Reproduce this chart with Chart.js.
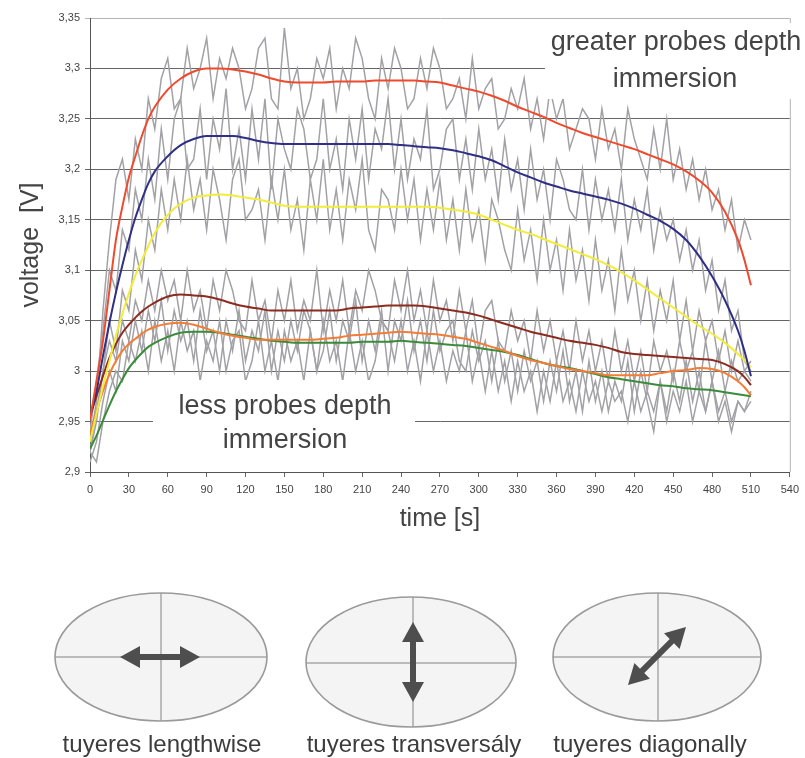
<!DOCTYPE html>
<html>
<head>
<meta charset="utf-8">
<script src="https://cdn.jsdelivr.net/npm/chart.js@4/dist/chart.umd.min.js"></script>
<style>
  html, body { margin: 0; padding: 0; background: #ffffff; }
  canvas { display: block; }
</style>
</head>
<body>
<canvas id="chart" width="805" height="758"></canvas>
<script>
// ------------------------------------------------
// Data
// ------------------------------------------------

// time axis of the smoothed curves [s]
var timeSmooth = [0, 5, 10, 15, 20, 25, 30, 35, 40, 45, 50,
    60, 70, 80, 90, 100, 110, 120, 130, 140, 150, 160, 170, 180, 190, 200,
    210, 220, 230, 240, 250, 260, 270, 280, 290, 300, 310, 320, 330, 340, 350,
    360, 370, 380, 390, 400, 410, 420, 430, 440, 450, 460, 470, 480, 490, 500,
    505, 510];

var redCurve = [2.952, 2.99, 3.03, 3.08, 3.13, 3.163, 3.192, 3.213, 3.233, 3.25, 3.262,
    3.279, 3.29, 3.297, 3.3, 3.3, 3.299, 3.297, 3.294, 3.29, 3.287, 3.286, 3.286, 3.286, 3.287, 3.287,
    3.287, 3.288, 3.288, 3.288, 3.288, 3.287, 3.286, 3.283, 3.28, 3.277, 3.273, 3.268, 3.262, 3.257, 3.252,
    3.246, 3.241, 3.236, 3.232, 3.228, 3.224, 3.22, 3.215, 3.21, 3.205, 3.198, 3.189, 3.177, 3.158, 3.13,
    3.11, 3.085];

var blueCurve = [2.955, 2.98, 3.015, 3.048, 3.078, 3.105, 3.13, 3.152, 3.17, 3.186, 3.198,
    3.213, 3.224, 3.23, 3.233, 3.233, 3.233, 3.231, 3.228, 3.226, 3.225, 3.225, 3.225, 3.225, 3.225, 3.225,
    3.225, 3.225, 3.225, 3.224, 3.223, 3.222, 3.221, 3.219, 3.216, 3.213, 3.209, 3.203, 3.197, 3.192, 3.187,
    3.183, 3.179, 3.176, 3.173, 3.17, 3.166, 3.161, 3.155, 3.149, 3.141, 3.13, 3.114, 3.094, 3.07, 3.04,
    3.02, 2.995];

var yellowCurve = [2.93, 2.958, 2.985, 3.01, 3.035, 3.057, 3.077, 3.095, 3.11, 3.124, 3.137,
    3.155, 3.166, 3.172, 3.174, 3.175, 3.174, 3.172, 3.17, 3.167, 3.164, 3.163, 3.163, 3.163, 3.163, 3.163,
    3.163, 3.163, 3.163, 3.163, 3.163, 3.163, 3.162, 3.16, 3.158, 3.155, 3.15, 3.145, 3.14, 3.136, 3.131,
    3.126, 3.121, 3.116, 3.111, 3.105, 3.098, 3.09, 3.081, 3.072, 3.063, 3.054, 3.045, 3.037, 3.028, 3.017,
    3.011, 3.004];

var brownCurve = [2.955, 2.975, 2.995, 3.013, 3.027, 3.038, 3.046, 3.053, 3.059, 3.064, 3.068,
    3.074, 3.076, 3.075, 3.074, 3.071, 3.067, 3.064, 3.062, 3.06, 3.06, 3.06, 3.06, 3.06, 3.06, 3.062,
    3.063, 3.064, 3.065, 3.065, 3.065, 3.064, 3.062, 3.06, 3.058, 3.055, 3.051, 3.047, 3.043, 3.039, 3.036,
    3.033, 3.03, 3.028, 3.026, 3.023, 3.019, 3.017, 3.016, 3.015, 3.014, 3.013, 3.012, 3.011, 3.007, 3.0,
    2.994, 2.986];

var orangeCurve = [2.938, 2.96, 2.98, 2.997, 3.01, 3.02, 3.027, 3.032, 3.037, 3.041, 3.044,
    3.047, 3.048, 3.046, 3.042, 3.038, 3.035, 3.033, 3.031, 3.031, 3.031, 3.031, 3.031, 3.032, 3.033, 3.035,
    3.036, 3.037, 3.038, 3.039, 3.038, 3.037, 3.036, 3.034, 3.032, 3.028, 3.024, 3.02, 3.015, 3.011, 3.008,
    3.005, 3.002, 3.0, 2.998, 2.996, 2.996, 2.996, 2.996, 2.998, 3.0, 3.001, 3.003, 3.002, 2.998, 2.99,
    2.984, 2.976];

var greenCurve = [2.923, 2.936, 2.951, 2.966, 2.98, 2.992, 3.003, 3.011, 3.018, 3.024, 3.028,
    3.034, 3.038, 3.039, 3.039, 3.038, 3.036, 3.034, 3.032, 3.03, 3.029, 3.028, 3.028, 3.028, 3.028, 3.028,
    3.029, 3.029, 3.029, 3.03, 3.029, 3.028, 3.027, 3.026, 3.025, 3.023, 3.021, 3.019, 3.016, 3.012, 3.008,
    3.005, 3.003, 3.0, 2.997, 2.994, 2.992, 2.99, 2.988, 2.986, 2.985, 2.983, 2.982, 2.981, 2.979, 2.977,
    2.976, 2.975];

// time axis of the raw (grey) measurements [s]
var timeRaw = [0, 5, 10, 15, 20, 25, 30, 35, 40, 45,
    50, 55, 60, 65, 70, 75, 80, 85, 90, 95,
    100, 105, 110, 115, 120, 125, 130, 135, 140, 145,
    150, 155, 160, 165, 170, 175, 180, 185, 190, 195,
    200, 205, 210, 215, 220, 225, 230, 235, 240, 245,
    250, 255, 260, 265, 270, 275, 280, 285, 290, 295,
    300, 305, 310, 315, 320, 325, 330, 335, 340, 345,
    350, 355, 360, 365, 370, 375, 380, 385, 390, 395,
    400, 405, 410, 415, 420, 425, 430, 435, 440, 445,
    450, 455, 460, 465, 470, 475, 480, 485, 490, 495,
    500, 505, 510];

var rawA = [2.93, 2.97, 3.06, 3.13, 3.19, 3.21, 3.17, 3.23, 3.20, 3.27,
    3.24, 3.29, 3.31, 3.26, 3.27, 3.32, 3.28, 3.30, 3.33, 3.27,
    3.31, 3.29, 3.32, 3.30, 3.26, 3.28, 3.32, 3.33, 3.27, 3.26,
    3.34, 3.28, 3.30, 3.25, 3.27, 3.31, 3.29, 3.32, 3.26, 3.30,
    3.28, 3.33, 3.31, 3.27, 3.25, 3.31, 3.28, 3.32, 3.30, 3.26,
    3.27, 3.31, 3.28, 3.32, 3.30, 3.26, 3.27, 3.29, 3.25, 3.31,
    3.26, 3.28, 3.29, 3.24, 3.25, 3.28, 3.26, 3.29, 3.24, 3.27,
    3.23, 3.28, 3.25, 3.27, 3.22, 3.24, 3.26, 3.25, 3.21, 3.26,
    3.22, 3.24, 3.20, 3.26, 3.23, 3.21, 3.19, 3.24, 3.20, 3.25,
    3.19, 3.22, 3.18, 3.21, 3.17, 3.20, 3.16, 3.18, 3.14, 3.17,
    3.12, 3.15, 3.13];

var rawB = [2.94, 2.99, 3.04, 3.10, 3.08, 3.14, 3.12, 3.18, 3.15, 3.21,
    3.17, 3.24, 3.19, 3.25, 3.27, 3.20, 3.21, 3.26, 3.19, 3.25,
    3.22, 3.28, 3.20, 3.24, 3.19, 3.26, 3.21, 3.27, 3.18, 3.25,
    3.22, 3.20, 3.26, 3.24, 3.19, 3.21, 3.27, 3.20, 3.23, 3.18,
    3.25, 3.21, 3.26, 3.19, 3.24, 3.22, 3.27, 3.20, 3.25, 3.19,
    3.23, 3.21, 3.26, 3.18, 3.20, 3.24, 3.25, 3.19, 3.23, 3.18,
    3.24, 3.19, 3.22, 3.17, 3.23, 3.18, 3.21, 3.16, 3.22, 3.17,
    3.20, 3.15, 3.21, 3.19, 3.16, 3.15, 3.20, 3.14, 3.19, 3.15,
    3.18, 3.14, 3.19, 3.13, 3.17, 3.14, 3.18, 3.12, 3.16, 3.13,
    3.15, 3.11, 3.14, 3.10, 3.13, 3.08, 3.11, 3.06, 3.09, 3.04,
    3.06, 3.01, 3.00];

var rawC = [2.92, 2.95, 3.00, 3.05, 3.02, 3.08, 3.06, 3.12, 3.09, 3.15,
    3.12, 3.18, 3.14, 3.19, 3.15, 3.21, 3.16, 3.19, 3.14, 3.20,
    3.17, 3.13, 3.19, 3.21, 3.15, 3.16, 3.18, 3.13, 3.19, 3.15,
    3.20, 3.14, 3.17, 3.12, 3.19, 3.15, 3.21, 3.14, 3.18, 3.13,
    3.19, 3.16, 3.21, 3.14, 3.12, 3.18, 3.17, 3.14, 3.20, 3.15,
    3.19, 3.13, 3.18, 3.14, 3.19, 3.13, 3.17, 3.12, 3.18, 3.13,
    3.16, 3.11, 3.17, 3.15, 3.12, 3.10, 3.16, 3.11, 3.14, 3.09,
    3.15, 3.10, 3.13, 3.08, 3.14, 3.09, 3.12, 3.07, 3.13, 3.08,
    3.11, 3.06, 3.12, 3.07, 3.10, 3.05, 3.09, 3.04, 3.08, 3.05,
    3.09, 3.03, 3.07, 3.02, 3.06, 3.03, 3.05, 3.01, 3.04, 3.00,
    3.03, 3.00, 3.01];

var rawD = [2.92, 2.96, 3.00, 3.03, 3.01, 3.05, 3.03, 3.07, 3.05, 3.09,
    3.06, 3.10, 3.07, 3.09, 3.05, 3.10, 3.06, 3.08, 3.04, 3.09,
    3.06, 3.10, 3.08, 3.05, 3.04, 3.09, 3.05, 3.07, 3.03, 3.08,
    3.05, 3.09, 3.04, 3.07, 3.05, 3.10, 3.04, 3.08, 3.05, 3.09,
    3.04, 3.08, 3.06, 3.10, 3.08, 3.05, 3.04, 3.09, 3.06, 3.10,
    3.05, 3.08, 3.04, 3.09, 3.05, 3.07, 3.03, 3.08, 3.04, 3.07,
    3.02, 3.06, 3.07, 3.03, 3.02, 3.06, 3.03, 3.05, 3.01, 3.06,
    3.02, 3.05, 3.01, 3.04, 3.00, 3.05, 3.01, 3.04, 3.00, 3.03,
    2.99, 3.04, 3.00, 3.03, 2.99, 3.02, 2.98, 3.03, 3.00, 3.02,
    2.99, 3.03, 3.00, 3.02, 2.98, 3.03, 2.99, 3.02, 2.98, 3.01,
    2.99, 3.00, 2.99];

var rawE = [2.91, 2.93, 2.97, 3.00, 2.98, 3.03, 3.01, 3.05, 3.02, 3.06,
    3.03, 3.07, 3.02, 3.06, 3.03, 3.05, 3.01, 3.06, 3.02, 3.04,
    3.00, 3.05, 3.02, 3.06, 3.01, 3.04, 3.02, 3.06, 3.00, 3.04,
    3.01, 3.05, 3.02, 3.06, 3.04, 3.00, 3.02, 3.06, 3.01, 3.05,
    3.03, 3.07, 3.01, 3.05, 3.02, 3.06, 3.00, 3.05, 3.03, 3.07,
    3.02, 3.05, 3.01, 3.06, 3.02, 3.04, 3.05, 3.01, 3.00, 3.04,
    3.01, 3.03, 2.99, 3.03, 2.99, 3.02, 2.98, 3.02, 2.99, 3.01,
    2.97, 3.01, 2.98, 3.02, 2.97, 3.00, 2.96, 3.01, 2.97, 3.00,
    2.96, 2.99, 2.97, 3.01, 2.96, 3.00, 2.97, 2.94, 2.99, 2.96,
    3.00, 2.97, 3.01, 2.97, 3.00, 2.96, 2.99, 2.95, 2.97, 2.94,
    2.97, 2.96, 2.98];

var rawF = [2.92, 2.91, 2.95, 2.98, 3.00, 2.99, 3.03, 3.01, 3.04, 3.00,
    3.05, 3.01, 3.04, 3.00, 3.05, 3.02, 3.04, 2.99, 3.03, 3.01,
    3.05, 3.00, 3.03, 3.04, 2.99, 3.01, 3.05, 3.00, 3.03, 2.99,
    3.04, 3.01, 3.03, 2.99, 3.04, 3.00, 3.05, 3.01, 3.03, 2.99,
    3.04, 3.00, 3.03, 2.99, 3.01, 3.05, 3.04, 3.01, 3.05, 3.00,
    3.03, 2.99, 3.04, 3.00, 3.03, 2.99, 3.02, 3.00, 3.04, 2.99,
    3.02, 2.98, 3.02, 2.98, 3.01, 2.97, 3.01, 2.98, 3.00, 2.96,
    3.00, 2.97, 3.01, 2.97, 2.99, 2.96, 3.00, 2.97, 2.99, 2.96,
    2.99, 2.97, 2.98, 2.95, 2.99, 2.96, 2.98, 2.96, 2.99, 2.95,
    2.98, 2.96, 2.99, 2.95, 2.98, 2.96, 2.99, 2.96, 2.98, 2.95,
    2.97, 2.96, 2.97];

// tick labels / texts
var xTicks = [0, 30, 60, 90, 120, 150, 180, 210, 240, 270, 300, 330, 360, 390, 420, 450, 480, 510, 540];
var yTickLabels = ["2,9", "2,95", "3", "3,05", "3,1", "3,15", "3,2", "3,25", "3,3", "3,35"];
var xTitle = "time [s]";
var yTitle = "voltage  [V]";
var noteHigh = ["greater probes depth", "immersion"];
var noteLow = ["less probes depth", "immersion"];
var tuyereLabels = ["tuyeres lengthwise", "tuyeres transversály", "tuyeres diagonally"];

// ------------------------------------------------
// Helpers
// ------------------------------------------------
function pairs(xs, ys) {
    return ys.map(function (y, i) { return { x: xs[i], y: y }; });
}

function smoothSet(data, color) {
    return {
        data: pairs(timeSmooth, data),
        borderColor: color,
        borderWidth: 2,
        pointRadius: 0,
        cubicInterpolationMode: 'monotone',
        order: 1
    };
}

function rawSet(data) {
    return {
        data: pairs(timeRaw, data),
        borderColor: '#a2a2a6',
        borderWidth: 1.5,
        pointRadius: 0,
        tension: 0,
        order: 2
    };
}

function doubleArrow(ctx, x1, y1, x2, y2) {
    var ang = Math.atan2(y2 - y1, x2 - x1);
    var len = Math.hypot(x2 - x1, y2 - y1);
    var head = 20, half = 11, shaft = 3;
    ctx.save();
    ctx.translate(x1, y1);
    ctx.rotate(ang);
    ctx.fillStyle = '#4e4e4e';
    ctx.beginPath();
    ctx.moveTo(0, 0);
    ctx.lineTo(head, -half);
    ctx.lineTo(head, -shaft);
    ctx.lineTo(len - head, -shaft);
    ctx.lineTo(len - head, -half);
    ctx.lineTo(len, 0);
    ctx.lineTo(len - head, half);
    ctx.lineTo(len - head, shaft);
    ctx.lineTo(head, shaft);
    ctx.lineTo(head, half);
    ctx.closePath();
    ctx.fill();
    ctx.restore();
}

function tuyere(ctx, cx, cy, rx, ry, hy, vx) {
    ctx.save();
    ctx.beginPath();
    ctx.ellipse(cx, cy, rx, ry, 0, 0, Math.PI * 2);
    ctx.fillStyle = '#f4f4f4';
    ctx.fill();
    ctx.clip();
    ctx.strokeStyle = '#a8a8a8';
    ctx.lineWidth = 1.5;
    ctx.beginPath();
    ctx.moveTo(cx - rx, hy);
    ctx.lineTo(cx + rx, hy);
    ctx.moveTo(vx, cy - ry);
    ctx.lineTo(vx, cy + ry);
    ctx.stroke();
    ctx.restore();
    ctx.save();
    ctx.beginPath();
    ctx.ellipse(cx, cy, rx, ry, 0, 0, Math.PI * 2);
    ctx.strokeStyle = '#9a9a9a';
    ctx.lineWidth = 1.6;
    ctx.stroke();
    ctx.restore();
}

// Frame, text boxes and the tuyere sketches below the chart.
var decorPlugin = {
    id: 'decor',
    beforeDatasetsDraw: function (chart) {
        var a = chart.chartArea, ctx = chart.ctx;
        ctx.save();
        ctx.strokeStyle = '#b5b5b5';
        ctx.lineWidth = 1;
        ctx.beginPath();
        ctx.moveTo(a.right + 0.5, a.top);
        ctx.lineTo(a.right + 0.5, a.bottom);
        ctx.stroke();
        ctx.restore();
    },
    afterDatasetsDraw: function (chart) {
        var ctx = chart.ctx;
        ctx.save();
        ctx.fillStyle = '#ffffff';
        ctx.fillRect(545, 23, 260, 76);
        ctx.fillRect(153, 380, 262, 82);
        ctx.fillStyle = '#444444';
        ctx.font = '27px "Liberation Sans", Arial, sans-serif';
        ctx.textAlign = 'center';
        ctx.textBaseline = 'middle';
        ctx.fillText(noteHigh[0], 676, 43);
        ctx.fillText(noteHigh[1], 675, 80);
        ctx.fillText(noteLow[0], 285, 407);
        ctx.fillText(noteLow[1], 285, 441);
        ctx.restore();
    },
    afterDraw: function (chart) {
        var ctx = chart.ctx;
        tuyere(ctx, 161, 657, 106, 64, 657, 161);
        tuyere(ctx, 411, 662, 105, 65, 663, 413);
        tuyere(ctx, 657, 657, 104, 64, 657, 658);
        doubleArrow(ctx, 120, 657, 200, 657);
        doubleArrow(ctx, 413, 622, 413, 702);
        doubleArrow(ctx, 628, 685, 686, 627);
        ctx.save();
        ctx.fillStyle = '#3c3c3c';
        ctx.font = '24px "Liberation Sans", Arial, sans-serif';
        ctx.textAlign = 'center';
        ctx.textBaseline = 'middle';
        ctx.fillText(tuyereLabels[0], 162, 745);
        ctx.fillText(tuyereLabels[1], 414, 745);
        ctx.fillText(tuyereLabels[2], 650, 745);
        ctx.restore();
    }
};

// ------------------------------------------------
// Chart
// ------------------------------------------------
var ctx = document.getElementById('chart');
var myChart = new Chart(ctx, {
    type: 'line',
    data: {
        datasets: [
            smoothSet(redCurve, '#f04a2e'),
            smoothSet(blueCurve, '#2f2f86'),
            smoothSet(yellowCurve, '#f2ec3a'),
            smoothSet(brownCurve, '#8c2b20'),
            smoothSet(orangeCurve, '#f47c34'),
            smoothSet(greenCurve, '#3a8c3a'),
            rawSet(rawA),
            rawSet(rawB),
            rawSet(rawC),
            rawSet(rawD),
            rawSet(rawE),
            rawSet(rawF)
        ]
    },
    options: {
        responsive: false,
        animation: false,
        layout: { padding: { left: 0, right: 15, top: 18, bottom: 216 } },
        plugins: {
            legend: { display: false },
            tooltip: { enabled: false }
        },
        scales: {
            x: {
                type: 'linear',
                min: xTicks[0],
                max: xTicks[xTicks.length - 1],
                afterFit: function (scale) { scale.height = 70; },
                afterBuildTicks: function (scale) {
                    scale.ticks = xTicks.map(function (v) { return { value: v }; });
                },
                ticks: {
                    color: '#444',
                    font: { family: '"Liberation Sans", Arial, sans-serif', size: 11 },
                    padding: 6,
                    maxRotation: 0,
                    autoSkip: false,
                    callback: function (v) { return String(v); }
                },
                grid: { drawOnChartArea: false, drawTicks: true, tickLength: 5, color: '#666' },
                border: { color: '#555', width: 1 },
                title: {
                    display: true,
                    text: xTitle,
                    color: '#444',
                    font: { family: '"Liberation Sans", Arial, sans-serif', size: 25 },
                    padding: { top: 0, bottom: 8 }
                }
            },
            y: {
                min: 2.9,
                max: 3.35,
                afterFit: function (scale) { scale.width = 90; },
                afterBuildTicks: function (scale) {
                    scale.ticks = yTickLabels.map(function (s) {
                        return { value: parseFloat(s.replace(',', '.')) };
                    });
                },
                ticks: {
                    color: '#444',
                    font: { family: '"Liberation Sans", Arial, sans-serif', size: 11 },
                    padding: 5,
                    autoSkip: false,
                    callback: function (v, i) { return yTickLabels[i]; }
                },
                grid: {
                    drawTicks: true,
                    tickLength: 5,
                    color: function (c) {
                        return c.tick && c.tick.value > 3.34 ? '#b5b5b5' : '#666';
                    }
                },
                border: { color: '#555', width: 1 },
                title: {
                    display: true,
                    text: yTitle,
                    color: '#444',
                    font: { family: '"Liberation Sans", Arial, sans-serif', size: 25 },
                    padding: { top: 16, bottom: 0 }
                }
            }
        }
    },
    plugins: [decorPlugin]
});
</script>
</body>
</html>
